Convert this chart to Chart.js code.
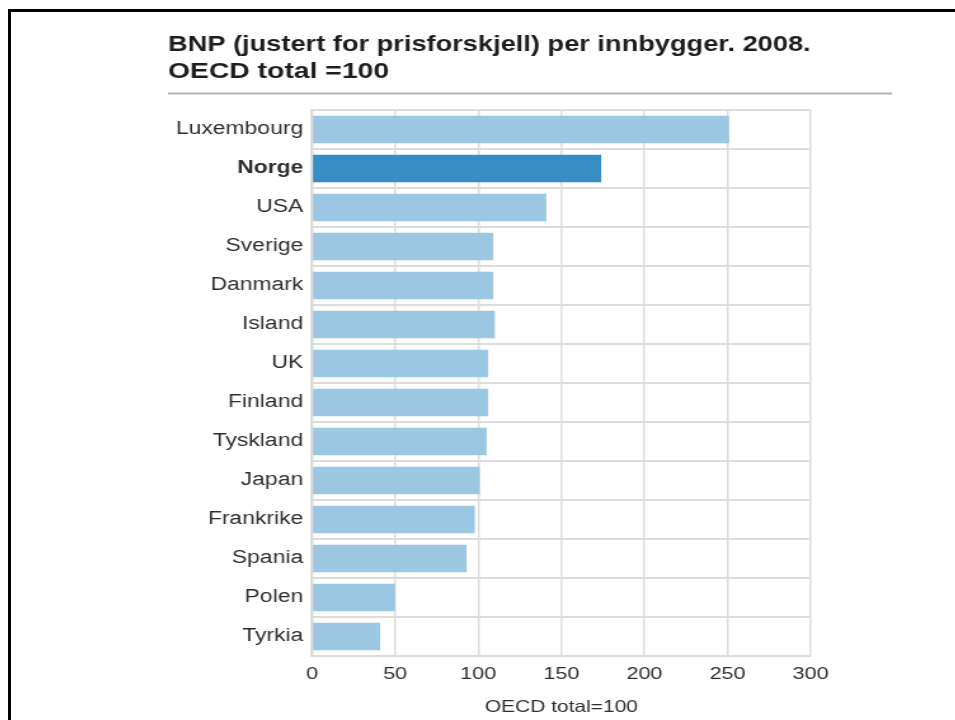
<!DOCTYPE html>
<html>
<head>
<meta charset="utf-8">
<script src="https://cdn.jsdelivr.net/npm/chart.js@4.4.1/dist/chart.umd.min.js"></script>
<style>
  body { margin: 0; background: #fff; overflow: hidden; }
  #frame {
    position: absolute; left: 8px; top: 9px;
    width: 2000px; height: 2000px;
    border-top: 3px solid #000; border-left: 3px solid #000;
  }
  /* the original picture is stretched sideways, so the chart is too */
  #wrap {
    position: absolute; left: 168px; top: 28px;
    width: 570px; height: 692px;
    transform: scaleX(1.27); transform-origin: 0 0;
  }
</style>
</head>
<body>
<div id="frame"></div>
<div id="wrap"><canvas id="chart"></canvas></div>
<script>
// Data
const countries = ["Luxembourg", "Norge", "USA", "Sverige", "Danmark", "Island", "UK",
  "Finland", "Tyskland", "Japan", "Frankrike", "Spania", "Polen", "Tyrkia"];
const gdpIndex = [251, 174, 141, 109, 109, 110, 106, 106, 105, 101, 98, 93, 50, 41];
const xTicks = [0, 50, 100, 150, 200, 250, 300];
const highlight = "Norge";

const lightBlue = "#9cc7e2";
const darkBlue = "#378ec4";
const gridGrey = "#dcdcdc";
const textGrey = "#2e2e2e";

// grey rule under the title
const titleRule = {
  id: "titleRule",
  afterDraw(chart) {
    const ctx = chart.ctx;
    ctx.save();
    ctx.strokeStyle = "#b4b4b4";
    ctx.lineWidth = 2;
    ctx.beginPath();
    ctx.moveTo(0, 65.5);
    ctx.lineTo(chart.width, 65.5);
    ctx.stroke();
    ctx.restore();
  }
};

const ctx = document.getElementById("chart").getContext("2d");
new Chart(ctx, {
  type: "bar",
  data: {
    labels: countries,
    datasets: [{
      data: gdpIndex,
      backgroundColor: countries.map(c => c === highlight ? darkBlue : lightBlue),
      borderWidth: 0,
      barPercentage: 0.7,
      categoryPercentage: 1
    }]
  },
  options: {
    indexAxis: "y",
    responsive: true,
    maintainAspectRatio: false,
    animation: false,
    layout: { padding: { left: 0, right: 64, top: 0, bottom: 0 } },
    plugins: {
      legend: { display: false },
      tooltip: { enabled: false },
      title: {
        display: true,
        text: ["BNP (justert for prisforskjell) per innbygger. 2008.", "OECD total =100"],
        align: "start",
        color: "#1e1e1e",
        font: { family: "'Liberation Sans', Arial, sans-serif", size: 22.3, weight: "bold", lineHeight: 1.22 },
        padding: { top: 3, bottom: 24.6 }
      }
    },
    scales: {
      x: {
        min: 0,
        max: 300,
        afterBuildTicks(scale) {
          scale.ticks = xTicks.map(v => ({ value: v }));
        },
        afterFit(scale) { scale.height = 64; },
        grid: { color: gridGrey, lineWidth: 1.5, drawTicks: false },
        border: { color: gridGrey, width: 1.5 },
        ticks: {
          color: textGrey,
          padding: 8,
          font: { family: "'Liberation Sans', Arial, sans-serif", size: 17 }
        },
        title: {
          display: true,
          text: "OECD total=100",
          color: textGrey,
          font: { family: "'Liberation Sans', Arial, sans-serif", size: 16.5 },
          padding: { top: 0, bottom: 3 }
        }
      },
      y: {
        afterFit(scale) { scale.width = 113.4; },
        grid: { color: gridGrey, lineWidth: 2, drawTicks: false, offset: true },
        border: { color: gridGrey, width: 2 },
        ticks: {
          color: textGrey,
          padding: 7,
          font: (c) => ({
            family: "'Liberation Sans', Arial, sans-serif",
            size: 18,
            weight: countries[c.index] === highlight ? "bold" : "normal"
          })
        }
      }
    }
  },
  plugins: [titleRule]
});
</script>
</body>
</html>
